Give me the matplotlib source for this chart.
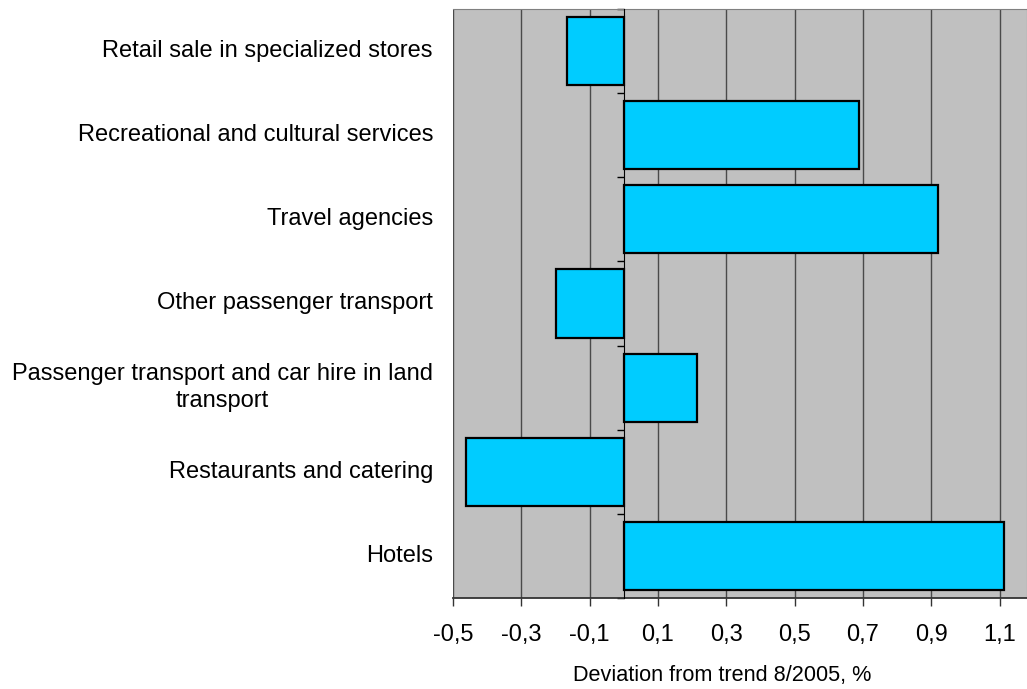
import matplotlib
matplotlib.use("Agg")
import matplotlib.pyplot as plt
import numpy as np

categories = [
    "Hotels",
    "Restaurants and catering",
    "Passenger transport and car hire in land\ntransport",
    "Other passenger transport",
    "Travel agencies",
    "Recreational and cultural services",
    "Retail sale in specialized stores",
]
values = [1.114, -0.462, 0.215, -0.199, 0.919, 0.689, -0.166]
xticks = [-0.5, -0.3, -0.1, 0.1, 0.3, 0.5, 0.7, 0.9, 1.1]
xticklabels = ["-0,5", "-0,3", "-0,1", "0,1", "0,3", "0,5", "0,7", "0,9", "1,1"]
xlabel = "Deviation from trend 8/2005, %"

plt.rcParams["font.family"] = ["Liberation Sans", "DejaVu Sans"]
FS = 17

fig = plt.figure(figsize=(10.27, 6.89), dpi=100)
ax = fig.add_axes([453 / 1027, 1 - 598 / 689, 1 - 453 / 1027, (598 - 9) / 689])
ax.set_facecolor("#C0C0C0")

y = np.arange(len(categories))
ax.barh(y, values, height=0.81, color="#00CCFF", edgecolor="black",
        linewidth=1.6, zorder=3)

ax.set_xlim(-0.5, 1.18)
ax.set_ylim(-0.5, len(categories) - 0.5)

ax.set_xticks(xticks)
ax.set_xticklabels(xticklabels, fontsize=FS)
ax.tick_params(axis="x", direction="out", length=6, width=1, color="#333333",
               pad=13)
ax.grid(axis="x", color="#4a4a4a", linewidth=1, zorder=1)

# Category axis sits at zero with ticks on category boundaries
ax.spines["left"].set_position(("data", 0))
ax.spines["left"].set_color("black")
ax.spines["left"].set_zorder(4)
ax.set_yticks(np.arange(-0.5, len(categories), 1.0))
ax.set_yticklabels([])
ax.tick_params(axis="y", direction="out", length=5, width=1, color="black")

for s in ("top", "right"):
    ax.spines[s].set_color("#808080")
ax.spines["bottom"].set_color("#333333")
ax.spines["bottom"].set_linewidth(1.3)

for yi, name in zip(y, categories):
    ax.annotate(name, xy=(0, yi), xycoords=("axes fraction", "data"),
                xytext=(-20, 0), textcoords="offset pixels",
                ha="right", va="center", multialignment="center",
                fontsize=FS, color="black", annotation_clip=False,
                linespacing=1.3)

ax.set_xlabel(xlabel, fontsize=15.6)
ax.xaxis.set_label_coords((722 - 453) / 574, -(676 - 598) / 589)
ax.xaxis.label.set_va("center")

fig.savefig("out.png", dpi=100)
